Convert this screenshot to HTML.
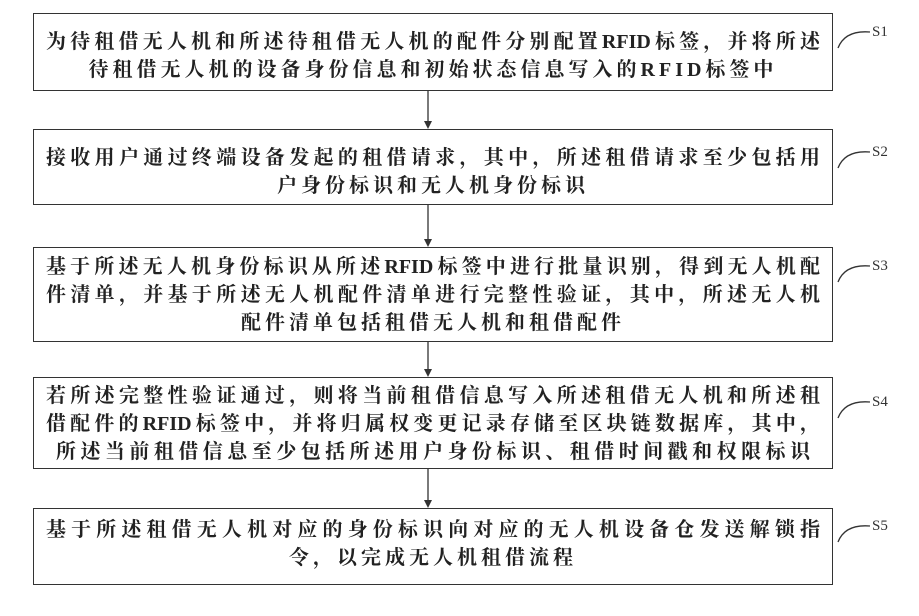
<!DOCTYPE html>
<html><head><meta charset="utf-8"><style>
body{margin:0;width:919px;height:616px;background:#fff;position:relative;overflow:hidden;font-family:"Liberation Serif","Noto Serif CJK SC","Noto Sans CJK SC",serif;color:#111}
.box{position:absolute;left:33px;width:800px;border:1.5px solid #333;box-sizing:border-box}
.l{position:absolute;left:12px;right:12px;font-size:20px;line-height:24px;white-space:nowrap;font-weight:bold;color:#222}
.j{text-align:justify;text-align-last:justify}
.c{text-align:center;letter-spacing:4px}
.lab{position:absolute;left:872px;font-size:15px;font-family:"Liberation Serif",serif;color:#333}
svg{position:absolute;left:0;top:0}
</style></head><body>
<svg width="919" height="616">
<g stroke="#333" stroke-width="1.3" fill="none">
<line x1="428" y1="91" x2="428" y2="122"/><line x1="428" y1="205" x2="428" y2="240"/>
<line x1="428" y1="342" x2="428" y2="370"/><line x1="428" y1="469" x2="428" y2="501"/>
<path d="M838 48 Q845 30 870 32"/><path d="M838 168 Q845 150 870 152"/>
<path d="M838 282 Q845 264 870 266"/><path d="M838 418 Q845 400 870 402"/>
<path d="M838 542 Q845 524 870 526"/>
</g>
<g fill="#333">
<polygon points="424,121 432,121 428,129"/><polygon points="424,239 432,239 428,247"/>
<polygon points="424,369 432,369 428,377"/><polygon points="424,500 432,500 428,508"/>
</g></svg>
<div class="box" style="top:13px;height:78px">
<div class="l j" style="top:16px">为待租借无人机和所述待租借无人机的配件分别配置RFID标签，并将所述</div>
<div class="l c" style="top:44px;letter-spacing:4px">待租借无人机的设备身份信息和初始状态信息写入的RFID标签中</div></div>
<div class="box" style="top:129px;height:76px">
<div class="l j" style="top:16px">接收用户通过终端设备发起的租借请求，其中，所述租借请求至少包括用</div>
<div class="l c" style="top:44px">户身份标识和无人机身份标识</div></div>
<div class="box" style="top:247px;height:95px">
<div class="l j" style="top:7px">基于所述无人机身份标识从所述RFID标签中进行批量识别，得到无人机配</div>
<div class="l j" style="top:35px">件清单，并基于所述无人机配件清单进行完整性验证，其中，所述无人机</div>
<div class="l c" style="top:63px">配件清单包括租借无人机和租借配件</div></div>
<div class="box" style="top:377px;height:92px">
<div class="l j" style="top:6px">若所述完整性验证通过，则将当前租借信息写入所述租借无人机和所述租</div>
<div class="l j" style="top:34px">借配件的RFID标签中，并将归属权变更记录存储至区块链数据库，其中，</div>
<div class="l j" style="top:62px;left:22px;right:22px">所述当前租借信息至少包括所述用户身份标识、租借时间戳和权限标识</div></div>
<div class="box" style="top:508px;height:77px">
<div class="l j" style="top:9px">基于所述租借无人机对应的身份标识向对应的无人机设备仓发送解锁指</div>
<div class="l c" style="top:37px">令，以完成无人机租借流程</div></div>
<div class="lab" style="top:24px">S1</div><div class="lab" style="top:144px">S2</div>
<div class="lab" style="top:258px">S3</div><div class="lab" style="top:394px">S4</div>
<div class="lab" style="top:518px">S5</div>
</body></html>
